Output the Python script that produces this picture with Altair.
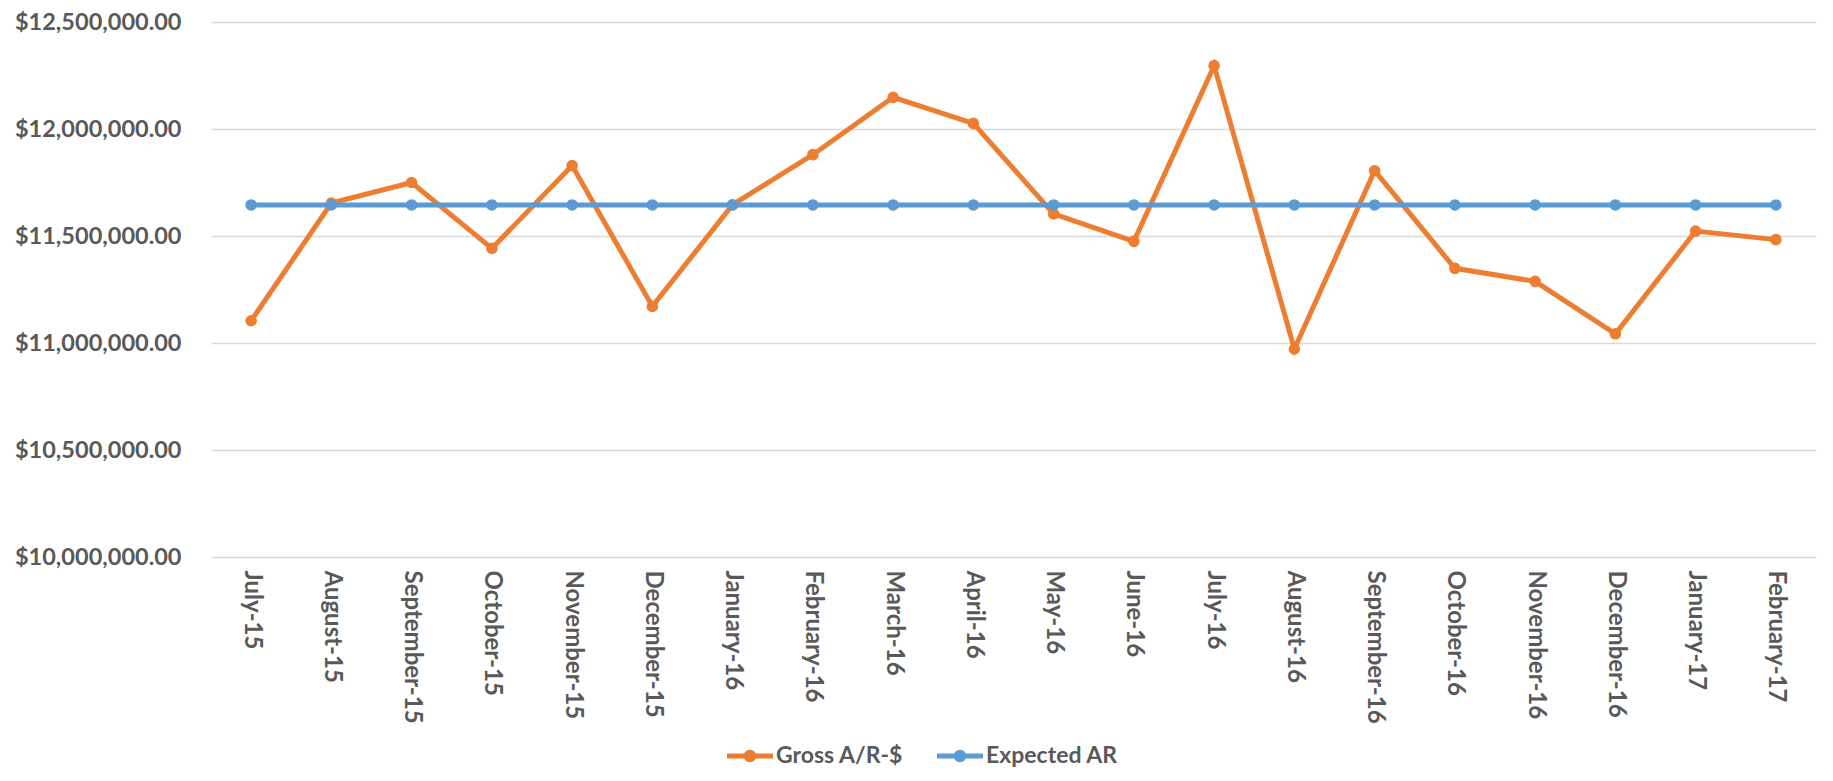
import altair as alt
import pandas as pd

months = ["July-15", "August-15", "September-15", "October-15", "November-15",
          "December-15", "January-16", "February-16", "March-16", "April-16",
          "May-16", "June-16", "July-16", "August-16", "September-16",
          "October-16", "November-16", "December-16", "January-17", "February-17"]

gross = [11104000, 11654000, 11750000, 11442000, 11829000,
         11171000, 11646000, 11880000, 12148000, 12026000,
         11603000, 11475000, 12296000, 10972000, 11805000,
         11349000, 11288000, 11043000, 11523000, 11483000]

expected = [11645000, 11645000, 11645000, 11645000, 11645000,
            11645000, 11645000, 11645000, 11645000, 11645000,
            11645000, 11645000, 11645000, 11645000, 11645000,
            11645000, 11645000, 11645000, 11645000, 11645000]

series_names = ["Gross A/R-$", "Expected AR"]
series_colors = ["#ED7D31", "#5B9BD5"]
y_ticks = [10000000, 10500000, 11000000, 11500000, 12000000, 12500000]

rows = []
for i, m in enumerate(months):
    rows.append({"month": m, "series": series_names[0], "value": gross[i], "order": 0})
for i, m in enumerate(months):
    rows.append({"month": m, "series": series_names[1], "value": expected[i], "order": 1})
df = pd.DataFrame(rows)

FONT = "Lato"
GREY = "#595959"

legend_path = ("M-1,-0.11L1,-0.11L1,0.11L-1,0.11Z "
               "M0.27,0A0.27,0.27,0,1,1,-0.27,0A0.27,0.27,0,1,1,0.27,0Z")

x_enc = alt.X("month:N", sort=months,
              scale=alt.Scale(type="point", padding=0.5),
              axis=alt.Axis(title=None, labelAngle=90, labelFont=FONT,
                            labelFontWeight="bold", labelFontSize=24,
                            labelColor=GREY, ticks=False, domain=False,
                            grid=False, labelPadding=13, labelLimit=400))
y_enc = alt.Y("value:Q",
              scale=alt.Scale(domain=[10000000, 12500000], nice=False, zero=False),
              axis=alt.Axis(title=None, values=y_ticks, format="$,.2f",
                            labelFont=FONT, labelFontWeight="bold",
                            labelFontSize=23.5, labelColor=GREY, ticks=False,
                            domain=False, grid=True, gridColor="#D9D9D9",
                            gridWidth=1.5, labelPadding=30, labelLimit=400))
color_scale = alt.Scale(domain=series_names, range=series_colors)

legend = alt.Legend(title=None, orient="none", direction="horizontal",
                    legendX=516, legendY=711,
                    symbolType=legend_path, symbolSize=2116,
                    symbolStrokeWidth=0, symbolOpacity=1,
                    labelFont=FONT, labelFontWeight="bold",
                    labelFontSize=23, labelColor=GREY,
                    labelOffset=3, columnPadding=33, padding=0,
                    labelLimit=400)

lines = alt.Chart(df).mark_line(strokeWidth=5).encode(
    x=x_enc, y=y_enc,
    color=alt.Color("series:N", scale=color_scale, legend=legend),
    order=alt.Order("order:Q"),
    detail="series:N",
)

points = alt.Chart(df).mark_point(filled=True, shape="circle", size=135, opacity=1).encode(
    x=x_enc, y=y_enc,
    color=alt.Color("series:N", scale=color_scale, legend=legend),
    order=alt.Order("order:Q"),
)

chart = alt.layer(lines, points).properties(
    width=1605, height=535,
    autosize=alt.AutoSizeParams(type="none"),
    padding={"left": 203, "top": 14, "right": 5, "bottom": 216},
).configure_view(stroke=None)

chart.save("out.html", embed_options={"renderer": "svg", "actions": False})
